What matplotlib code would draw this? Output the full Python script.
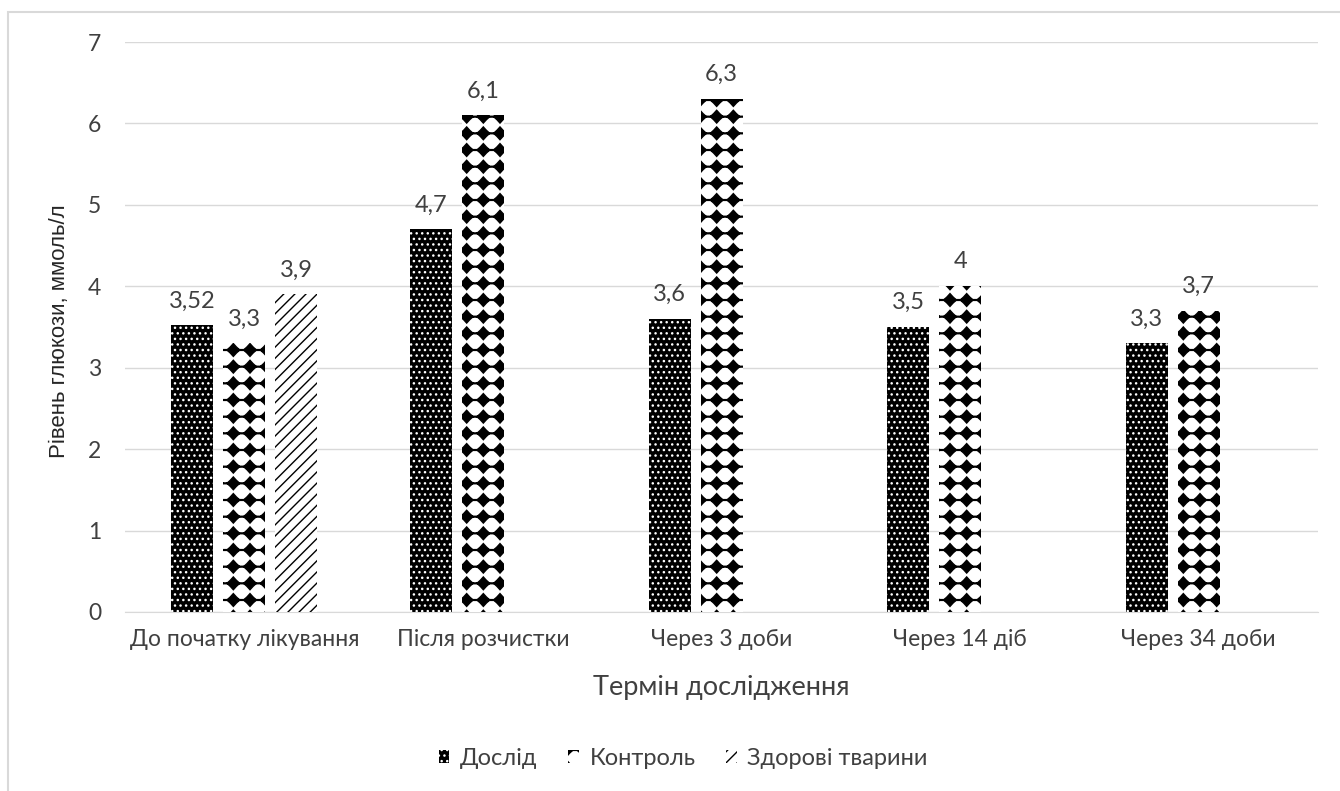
import warnings
import matplotlib
matplotlib.use("Agg")
import matplotlib.pyplot as plt
from matplotlib import hatch as mhatch
from matplotlib.path import Path
from matplotlib.patches import Rectangle
import numpy as np

warnings.filterwarnings("ignore", message=".*hatch must consist.*")

# data
categories = ["До початку лікування", "Після розчистки", "Через 3 доби",
              "Через 14 діб", "Через 34 доби"]
series_names = ["Дослід", "Контроль", "Здорові тварини"]
doslid = [3.52, 4.7, 3.6, 3.5, 3.3]
kontrol = [3.3, 6.1, 6.3, 4.0, 3.7]
zdorovi = [3.9, np.nan, np.nan, np.nan, np.nan]
doslid_labels = ["3,52", "4,7", "3,6", "3,5", "3,3"]
kontrol_labels = ["3,3", "6,1", "6,3", "4", "3,7"]
zdorovi_labels = ["3,9", "", "", "", ""]
yticks = [0, 1, 2, 3, 4, 5, 6, 7]


class DiamondGrid(mhatch.HatchPatternBase):
    """Aligned grid of four-pointed blobs joined by thin horizontal bars ('d')."""
    rows, cols = 6, 6
    outer, inner, bar = 0.064, 0.043, 0.004

    def __init__(self, hatch, density):
        self.n = hatch.count('d')
        if self.n:
            self.num_vertices = ((self.rows + 1) * (self.cols + 1) * 9
                                 + (self.rows + 1) * 5)
        else:
            self.num_vertices = 0

    def set_vertices_and_codes(self, vertices, codes):
        ang = np.arange(8) * np.pi / 4
        rad = np.where(np.arange(8) % 2 == 0, self.outer, self.inner)
        blob = np.column_stack([rad * np.cos(ang), rad * np.sin(ang)])
        blob = np.vstack([blob, blob[:1]])
        blob_codes = [Path.MOVETO] + [Path.LINETO] * 7 + [Path.CLOSEPOLY]
        rect_codes = [Path.MOVETO] + [Path.LINETO] * 3 + [Path.CLOSEPOLY]
        k = 0
        for r in np.linspace(0, 1, self.rows + 1):
            for c in np.linspace(0, 1, self.cols + 1):
                vertices[k:k + 9] = blob + (c, r)
                codes[k:k + 9] = blob_codes
                k += 9
            b = self.bar
            vertices[k:k + 5] = [(0, r - b), (1, r - b), (1, r + b), (0, r + b), (0, r - b)]
            codes[k:k + 5] = rect_codes
            k += 5


mhatch._hatch_types.append(DiamondGrid)

txt = "#404040"
plt.rcParams["font.family"] = ["Lato", "DejaVu Sans"]
plt.rcParams["hatch.linewidth"] = 1.0

fig = plt.figure(figsize=(13.4, 7.91), dpi=100)
ax = fig.add_axes([0.0933, 0.2263, 0.8903, 0.7206])

# light frame around the chart area
fig.patches.append(Rectangle((8 / 1340, -0.1), 1.2, 1 - 12 / 791 + 0.1,
                             transform=fig.transFigure, fill=False,
                             edgecolor="#d9d9d9", linewidth=1.5))

x = np.arange(len(categories))
w = 0.176
step = 0.218

styles = [
    dict(facecolor="black", edgecolor="white", hatch="...", linewidth=0),
    dict(facecolor="white", edgecolor="black", hatch="d", linewidth=0),
    dict(facecolor="white", edgecolor="black", hatch="///", linewidth=0),
]
values = [doslid, kontrol, zdorovi]
labels = [doslid_labels, kontrol_labels, zdorovi_labels]

for i, (vals, labs, st) in enumerate(zip(values, labels, styles)):
    bars = ax.bar(x + (i - 1) * step, vals, w, label=series_names[i], zorder=3, **st)
    ax.bar_label(bars, labels=labs, padding=10, fontsize=17, color=txt)

ax.set_xlim(-0.5, len(categories) - 0.5)
ax.set_ylim(0, 7)
ax.set_yticks(yticks)
ax.set_xticks(x)
ax.set_xticklabels(categories)
ax.tick_params(axis="both", length=0, labelsize=16.5, labelcolor=txt)
ax.tick_params(axis="y", pad=17)
ax.tick_params(axis="x", pad=12)
ax.grid(axis="y", color="#d9d9d9", linewidth=1, zorder=0)
for s in ["top", "right", "left"]:
    ax.spines[s].set_visible(False)
ax.spines["bottom"].set_color("#d9d9d9")

ax.set_xlabel("Термін дослідження", fontsize=19.5, color=txt, labelpad=18)
ax.set_ylabel("Рівень глюкози, ммоль/л", fontsize=16, color="#262626",
              family=["Liberation Sans", "DejaVu Sans"])
ax.yaxis.set_label_coords(-0.046, 0.493)

fig.legend(loc="center", bbox_to_anchor=(0.51, 0.041), ncol=3, frameon=False,
           fontsize=17, handlelength=0.45, handleheight=0.45, handletextpad=0.45,
           columnspacing=1.3, labelcolor=txt)

fig.savefig("out.png", dpi=100)
